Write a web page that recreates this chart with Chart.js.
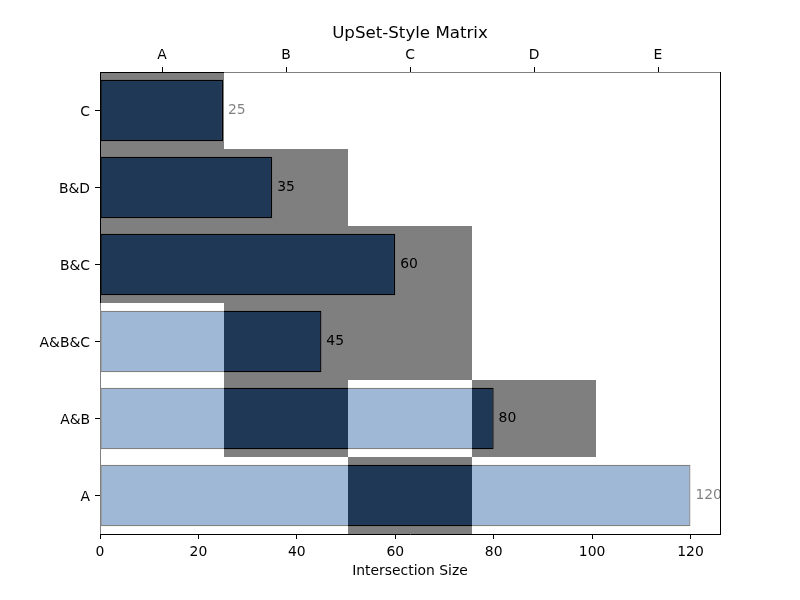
<!DOCTYPE html>
<html>
<head>
<meta charset="utf-8">
<script src="https://cdn.jsdelivr.net/npm/chart.js@4"></script>
<style>
  html, body { margin: 0; padding: 0; background: #fff; }
  #wrap { width: 800px; height: 600px; }
</style>
</head>
<body>
<div id="wrap"><canvas id="c" width="800" height="600"></canvas></div>
<script>
// ---- data ----
const intersections = ['C', 'B&D', 'B&C', 'A&B&C', 'A&B', 'A'];   // top to bottom
const sizes = [25, 35, 60, 45, 80, 120];
const setNames = ['A', 'B', 'C', 'D', 'E'];
const membership = [
  [1, 0, 0, 0, 0],
  [1, 1, 0, 0, 0],
  [1, 1, 1, 0, 0],
  [0, 1, 1, 0, 0],
  [0, 1, 0, 1, 0],
  [0, 0, 1, 0, 0]
];
const xTicks = [0, 20, 40, 60, 80, 100, 120];
const xMax = 126;

// ---- styles ----
const FONT = 'DejaVu Sans';
const barColor = 'rgb(60,112,172)';
const onColor = 'rgba(0,0,0,0.5)';
const offColor = 'rgba(255,255,255,0.5)';

const matrixDatasets = setNames.map((name, c) => ({
  type: 'bar',
  label: name,
  xAxisID: 'x2',
  yAxisID: 'y',
  data: intersections.map(() => [c - 0.5, c + 0.5]),
  backgroundColor: intersections.map((_, r) => membership[r][c] ? onColor : offColor),
  borderWidth: 0,
  barPercentage: 1,
  categoryPercentage: 1,
  inflateAmount: 0,
  grouped: false,
  order: 0
}));

const barDataset = {
  type: 'bar',
  label: 'Intersection Size',
  xAxisID: 'x',
  yAxisID: 'y',
  data: sizes,
  backgroundColor: barColor,
  borderColor: '#000',
  borderWidth: 1.3,
  borderSkipped: false,
  barPercentage: 0.8,
  categoryPercentage: 1,
  grouped: false,
  order: 1
};

const valueLabels = {
  id: 'valueLabels',
  afterDatasetDraw(chart, args) {
    if (args.meta.xAxisID !== 'x') return;
    const ctx = chart.ctx;
    const xs = chart.scales.x;
    ctx.save();
    ctx.font = '13.9px "' + FONT + '"';
    ctx.fillStyle = '#000';
    ctx.textAlign = 'left';
    ctx.textBaseline = 'middle';
    args.meta.data.forEach((el, i) => {
      ctx.fillText(String(sizes[i]), xs.getPixelForValue(sizes[i] + 1), el.y);
    });
    ctx.restore();
  }
};

Chart.defaults.font.family = FONT;
Chart.defaults.font.size = 13.9;
Chart.defaults.color = '#000';

const axisGrid = { drawOnChartArea: false, color: '#000', tickLength: 5, tickWidth: 1 };
const axisBorder = { display: true, color: '#000', width: 1 };

new Chart(document.getElementById('c'), {
  type: 'bar',
  data: {
    labels: intersections,
    datasets: [...matrixDatasets, barDataset]
  },
  plugins: [valueLabels],
  options: {
    indexAxis: 'y',
    responsive: false,
    animation: false,
    layout: { padding: 0 },
    plugins: {
      legend: { display: false },
      tooltip: { enabled: false },
      title: { display: false }
    },
    scales: {
      x: {
        type: 'linear',
        position: 'bottom',
        min: 0,
        max: xMax,
        z: 1,
        grid: axisGrid,
        border: axisBorder,
        afterBuildTicks: s => { s.ticks = xTicks.map(v => ({ value: v })); },
        ticks: { padding: 5, maxRotation: 0, autoSkip: false, color: '#000' },
        title: { display: true, text: 'Intersection Size', color: '#000', padding: { top: 0, bottom: 20 } },
        afterFit: s => { s.height = 66; }
      },
      x2: {
        type: 'linear',
        position: 'top',
        min: -0.5,
        max: setNames.length - 0.5,
        z: 1,
        grid: axisGrid,
        border: axisBorder,
        afterBuildTicks: s => { s.ticks = setNames.map((_, i) => ({ value: i })); },
        ticks: { padding: 3, maxRotation: 0, autoSkip: false, color: '#000', callback: v => setNames[v] },
        title: {
          display: true,
          text: 'UpSet-Style Matrix',
          color: '#000',
          font: { size: 16.67, weight: 'normal', family: FONT },
          padding: { top: 24, bottom: 0 }
        },
        afterFit: s => { s.height = 72; }
      },
      y: {
        type: 'category',
        position: 'left',
        z: 1,
        grid: Object.assign({}, axisGrid, { offset: false }),
        border: axisBorder,
        ticks: { padding: 5, autoSkip: false, color: '#000', labelOffset: 1.5 },
        afterFit: s => { s.width = 100; }
      },
      y2: {
        type: 'category',
        position: 'right',
        labels: intersections,
        z: 1,
        grid: { drawOnChartArea: false, drawTicks: false },
        border: axisBorder,
        ticks: { display: false },
        afterFit: s => { s.width = 80; }
      }
    }
  }
});
</script>
</body>
</html>
